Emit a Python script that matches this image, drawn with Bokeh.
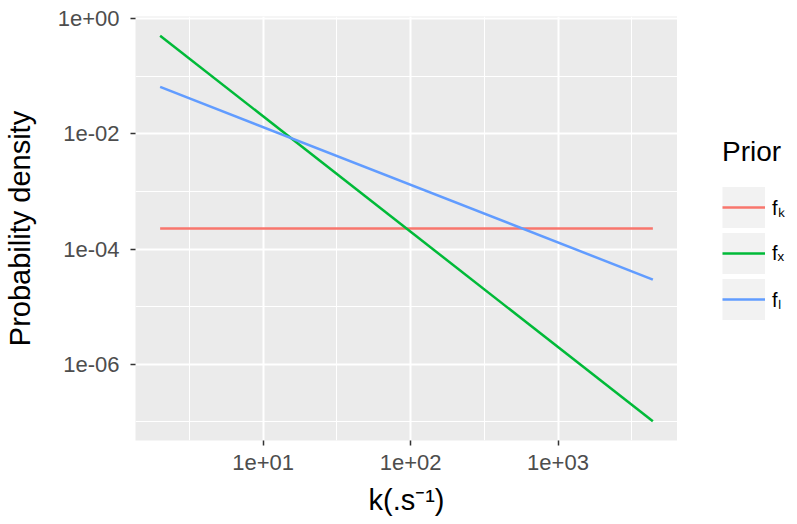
import math
from bokeh.plotting import figure
from bokeh.layouts import row
from bokeh.models import Range1d, FixedTicker, Legend, LegendItem, ColumnDataSource
from bokeh.embed import file_html
from bokeh.resources import INLINE

# ---- data ----
k_values = [2, 4400]
f_k = [2.27e-4, 2.27e-4]
f_x = [0.5, 1.03e-7]
f_l = [0.065, 2.95e-5]
series_names = ["fₖ", "fₓ", "fₗ"]
series_colors = ["#F8766D", "#00BA38", "#619CFF"]

x_ticks = [10, 100, 1000]
x_tick_labels = ["1e+01", "1e+02", "1e+03"]
x_minor_ticks = [3.1623, 31.623, 316.23, 3162.3]
y_ticks = [1, 1e-2, 1e-4, 1e-6]
y_tick_labels = ["1e+00", "1e-02", "1e-04", "1e-06"]
y_minor_ticks = [1e-1, 1e-3, 1e-5, 1e-7]

x_title = "k(.s⁻¹)"
y_title = "Probability density"
legend_title = "Prior"

FONT = "Liberation Sans"
H = 520
FRAME_TOP = 16
FRAME_BOTTOM = 440

def log_range(vals, frac=0.05):
    lo = math.log10(min(vals)); hi = math.log10(max(vals))
    pad = (hi - lo) * frac
    return Range1d(10 ** (lo - pad), 10 ** (hi + pad))

all_y = f_k + f_x + f_l
p = figure(width=677, height=H, x_axis_type="log", y_axis_type="log",
           x_range=log_range(k_values), y_range=log_range(all_y),
           output_backend="svg", toolbar_location=None,
           min_border_left=134, min_border_right=0, min_border_top=FRAME_TOP,
           min_border_bottom=H - FRAME_BOTTOM,
           background_fill_color="#EBEBEB", border_fill_color="white",
           outline_line_color=None)

p.xaxis.ticker = FixedTicker(ticks=x_ticks, minor_ticks=x_minor_ticks)
p.yaxis.ticker = FixedTicker(ticks=y_ticks, minor_ticks=y_minor_ticks)
p.xaxis.major_label_overrides = dict(zip(x_ticks, x_tick_labels))
p.yaxis.major_label_overrides = dict(zip(y_ticks, y_tick_labels))

for ax in (p.xaxis, p.yaxis):
    ax.axis_line_color = None
    ax.minor_tick_line_color = None
    ax.major_tick_line_color = "#333333"
    ax.major_tick_line_width = 1.5
    ax.major_tick_out = 5
    ax.major_tick_in = 0
    ax.major_label_text_font = FONT
    ax.major_label_text_font_size = "22px"
    ax.major_label_text_color = "#4D4D4D"
    ax.axis_label_text_font = FONT
    ax.axis_label_text_font_size = "29px"
    ax.axis_label_text_font_style = "normal"
    ax.axis_label_text_color = "black"

p.xaxis.axis_label = x_title
p.yaxis.axis_label = y_title
p.xaxis.major_label_standoff = 9
p.yaxis.major_label_standoff = 11
p.xaxis.axis_label_standoff = 11
p.yaxis.axis_label_standoff = 19

for g in (p.xgrid, p.ygrid):
    g.grid_line_color = "white"
    g.grid_line_width = 2
    g.minor_grid_line_color = "white"
    g.minor_grid_line_width = 1

for vals, col in zip([f_k, f_x, f_l], series_colors):
    src = ColumnDataSource(dict(x=k_values, y=vals))
    p.line("x", "y", source=src, line_color=col, line_width=2.5)

# ---- legend panel (its frame is aligned with the main frame by the row layout) ----
lg = figure(width=112, height=H, x_range=Range1d(0, 1), y_range=Range1d(0, 1),
            output_backend="svg", toolbar_location=None,
            x_axis_location=None, y_axis_location=None,
            min_border=0, outline_line_color=None,
            background_fill_color="white", border_fill_color="white")
lg.xgrid.visible = False
lg.ygrid.visible = False

items = []
for name, col in zip(series_names, series_colors):
    # placeholder renderers lying outside the legend panel's range: only their legend keys show
    bg = lg.line(x=[5, 6], y=[5, 6], line_color="#F2F2F2", line_width=41, line_cap="butt")
    r = lg.line(x=[5, 6], y=[5, 6], line_color=col, line_width=2.5)
    items.append(LegendItem(label=name, renderers=[bg, r]))

legend = Legend(items=items, location=(45, FRAME_BOTTOM - 320), title=legend_title,
                title_text_font=FONT, title_text_font_size="28px", title_text_color="black",
                title_text_font_style="normal", title_standoff=18,
                label_text_font=FONT, label_text_font_size="20px", label_text_color="black",
                glyph_width=43, glyph_height=42, label_height=42, spacing=4,
                padding=0, margin=0, label_standoff=7,
                border_line_color=None, background_fill_alpha=0)
lg.add_layout(legend)

layout = row(p, lg, spacing=0)
open("out.html", "w").write(file_html(layout, INLINE))
